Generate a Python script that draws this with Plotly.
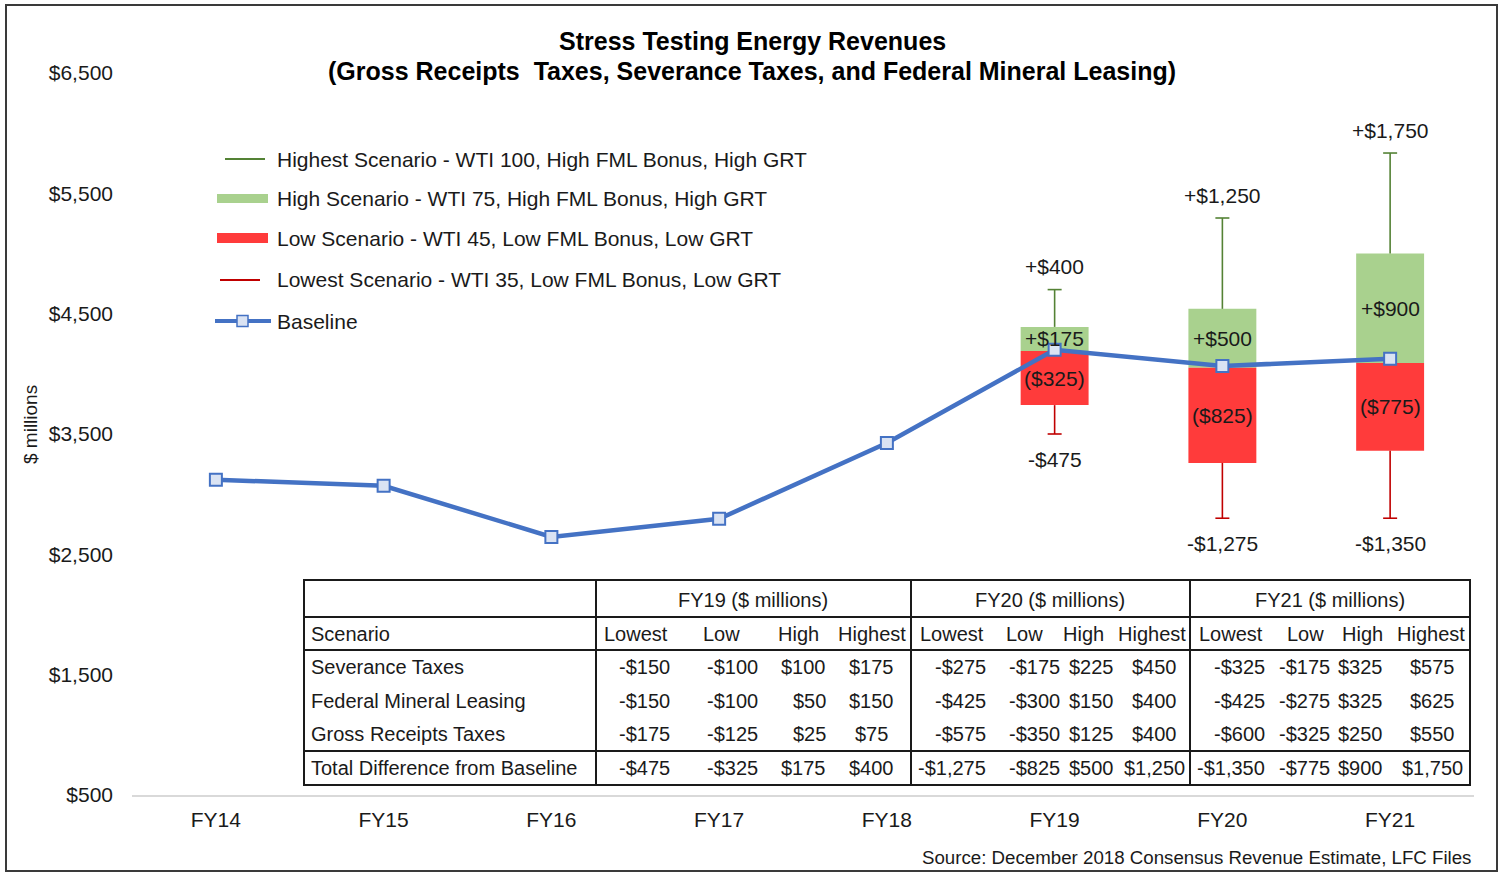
import plotly.graph_objects as go

# ---------------- data ----------------
categories = ["FY14", "FY15", "FY16", "FY17", "FY18", "FY19", "FY20", "FY21"]
baseline = [3120, 3070, 2645, 2795, 3425, 4200, 4065, 4125]

scenario_years = ["FY19", "FY20", "FY21"]
highest_level = [4700, 5295, 5835]
high_level = [4390, 4540, 5000]
split_level = [4190, 4050, 4090]
low_level = [3740, 3260, 3360]
lowest_level = [3500, 2800, 2800]

highest_labels = ["+$400", "+$1,250", "+$1,750"]
high_labels = ["+$175", "+$500", "+$900"]
low_labels = ["($325)", "($825)", "($775)"]
lowest_labels = ["-$475", "-$1,275", "-$1,350"]

y_tick_values = [500, 1500, 2500, 3500, 4500, 5500, 6500]
y_tick_labels = ["$500", "$1,500", "$2,500", "$3,500", "$4,500", "$5,500", "$6,500"]

legend_labels = [
    "Highest Scenario - WTI 100, High FML Bonus, High GRT",
    "High Scenario - WTI 75, High FML Bonus, High GRT",
    "Low Scenario - WTI 45, Low FML Bonus, Low GRT",
    "Lowest Scenario - WTI 35, Low FML Bonus, Low GRT",
    "Baseline",
]

table_groups = ["FY19 ($ millions)", "FY20 ($ millions)", "FY21 ($ millions)"]
table_subheads = ["Lowest", "Low", "High", "Highest"]
table_rows = ["Severance Taxes", "Federal Mineral Leasing", "Gross Receipts Taxes",
              "Total Difference from Baseline"]
table_fy19 = [["-$150", "-$100", "$100", "$175"],
              ["-$150", "-$100", "$50", "$150"],
              ["-$175", "-$125", "$25", "$75"],
              ["-$475", "-$325", "$175", "$400"]]
table_fy20 = [["-$275", "-$175", "$225", "$450"],
              ["-$425", "-$300", "$150", "$400"],
              ["-$575", "-$350", "$125", "$400"],
              ["-$1,275", "-$825", "$500", "$1,250"]]
table_fy21 = [["-$325", "-$175", "$325", "$575"],
              ["-$425", "-$275", "$325", "$625"],
              ["-$600", "-$325", "$250", "$550"],
              ["-$1,350", "-$775", "$900", "$1,750"]]

# ---------------- styling ----------------
W, H = 1504, 875
L, R, T, B = 132, 30, 73, 80
FONT = "Arial, Liberation Sans, sans-serif"
TXT = "#1a1a1a"
GREEN_BOX = "#a9d18e"
RED_BOX = "#ff3b3b"
GREEN_LINE = "#548235"
RED_LINE = "#c00000"
BLUE = "#4472c4"


def px(x):
    return (x - L) / (W - L - R)


def py(y):
    return (H - B - y) / (H - B - T)


fig = go.Figure()

mid_high = [(s + h) / 2 for s, h in zip(split_level, high_level)]
mid_low = [(s + l) / 2 for s, l in zip(split_level, low_level)]

# boxes
fig.add_trace(go.Bar(
    x=scenario_years, y=[h - s for h, s in zip(high_level, split_level)], base=split_level,
    width=0.405, marker=dict(color=GREEN_BOX, line=dict(width=0)), showlegend=False,
    hoverinfo="skip"))
fig.add_trace(go.Bar(
    x=scenario_years, y=[s - l for s, l in zip(split_level, low_level)], base=low_level,
    width=0.405, marker=dict(color=RED_BOX, line=dict(width=0)), showlegend=False,
    hoverinfo="skip"))

# whisker stems (no caps) + caps as markers at the ends
fig.add_trace(go.Scatter(
    x=scenario_years, y=high_level, mode="markers", marker=dict(size=1, opacity=0),
    error_y=dict(type="data", symmetric=False,
                 array=[a - b for a, b in zip(highest_level, high_level)],
                 arrayminus=[0, 0, 0], color=GREEN_LINE, thickness=1.6, width=0),
    showlegend=False, hoverinfo="skip"))
fig.add_trace(go.Scatter(
    x=scenario_years, y=highest_level, mode="markers",
    marker=dict(symbol="line-ew", size=10, line=dict(color=GREEN_LINE, width=1.6)),
    showlegend=False, hoverinfo="skip"))
fig.add_trace(go.Scatter(
    x=scenario_years, y=low_level, mode="markers", marker=dict(size=1, opacity=0),
    error_y=dict(type="data", symmetric=False, array=[0, 0, 0],
                 arrayminus=[a - b for a, b in zip(low_level, lowest_level)],
                 color=RED_LINE, thickness=1.6, width=0),
    showlegend=False, hoverinfo="skip"))
fig.add_trace(go.Scatter(
    x=scenario_years, y=lowest_level, mode="markers",
    marker=dict(symbol="line-ew", size=10, line=dict(color=RED_LINE, width=1.6)),
    showlegend=False, hoverinfo="skip"))

# baseline
fig.add_trace(go.Scatter(
    x=categories, y=baseline, mode="lines+markers",
    line=dict(color=BLUE, width=4.5),
    marker=dict(symbol="square", size=12, color="#dae3f3", line=dict(color=BLUE, width=2)),
    showlegend=False, hoverinfo="skip"))

ann = []
lab_font = dict(family=FONT, size=21, color=TXT)
for i, yr in enumerate(scenario_years):
    ann.append(dict(x=yr, y=highest_level[i], xref="x", yref="y", text=highest_labels[i],
                    showarrow=False, yanchor="middle", yshift=23, font=lab_font))
    ann.append(dict(x=yr, y=mid_high[i], xref="x", yref="y", text=high_labels[i],
                    showarrow=False, yanchor="middle", font=lab_font))
    ann.append(dict(x=yr, y=mid_low[i], xref="x", yref="y", text=low_labels[i],
                    showarrow=False, yanchor="middle", font=lab_font))
    ann.append(dict(x=yr, y=lowest_level[i], xref="x", yref="y", text=lowest_labels[i],
                    showarrow=False, yanchor="middle", yshift=-25, font=lab_font))

shapes = []

# ---------------- legend (manual) ----------------
leg_rows = [160, 198, 238, 279, 321]
shapes.append(dict(type="line", xref="paper", yref="paper", x0=px(225), x1=px(265),
                   y0=py(159), y1=py(159), line=dict(color=GREEN_LINE, width=2)))
shapes.append(dict(type="rect", xref="paper", yref="paper", x0=px(217), x1=px(268),
                   y0=py(194), y1=py(203), fillcolor=GREEN_BOX, line=dict(width=0)))
shapes.append(dict(type="rect", xref="paper", yref="paper", x0=px(217), x1=px(268),
                   y0=py(233), y1=py(243), fillcolor=RED_BOX, line=dict(width=0)))
shapes.append(dict(type="line", xref="paper", yref="paper", x0=px(220), x1=px(260),
                   y0=py(280), y1=py(280), line=dict(color=RED_LINE, width=2)))
shapes.append(dict(type="line", xref="paper", yref="paper", x0=px(215), x1=px(271),
                   y0=py(321), y1=py(321), line=dict(color=BLUE, width=4)))
shapes.append(dict(type="rect", xref="paper", yref="paper", x0=px(237), x1=px(248),
                   y0=py(315.5), y1=py(326.5), fillcolor="#dae3f3",
                   line=dict(color=BLUE, width=1.5)))
for yy, t in zip(leg_rows, legend_labels):
    ann.append(dict(x=px(275), y=py(yy), xref="paper", yref="paper", text=t,
                    showarrow=False, xanchor="left", yanchor="middle",
                    font=dict(family=FONT, size=21, color=TXT)))

# ---------------- table ----------------
tx0, tx1 = 304, 1470
ty = [580, 617, 650, 751, 785]
col_sep = [596, 911, 1190]
shapes.append(dict(type="rect", xref="paper", yref="paper", x0=px(tx0), x1=px(tx1),
                   y0=py(ty[0]), y1=py(ty[-1]), fillcolor="white",
                   line=dict(color="#1a1a1a", width=2), layer="above"))
for yv in ty[1:4]:
    shapes.append(dict(type="line", xref="paper", yref="paper", x0=px(tx0), x1=px(tx1),
                       y0=py(yv), y1=py(yv), line=dict(color="#1a1a1a", width=2)))
for xv in col_sep:
    shapes.append(dict(type="line", xref="paper", yref="paper", x0=px(xv), x1=px(xv),
                       y0=py(ty[0]), y1=py(ty[-1]), line=dict(color="#1a1a1a", width=2)))

tfont = dict(family=FONT, size=20, color=TXT)
group_centers = [753, 1050, 1330]
for c, g in zip(group_centers, table_groups):
    ann.append(dict(x=px(c), y=py(600), xref="paper", yref="paper", text=g,
                    showarrow=False, xanchor="center", yanchor="middle", font=tfont))
ann.append(dict(x=px(309), y=py(634), xref="paper", yref="paper", text="Scenario",
                showarrow=False, xanchor="left", yanchor="middle", font=tfont))
sub_centers = [[636, 721, 798, 872], [952, 1024, 1083, 1152], [1231, 1305, 1362, 1431]]
for grp in sub_centers:
    for c, s in zip(grp, table_subheads):
        ann.append(dict(x=px(c), y=py(634), xref="paper", yref="paper", text=s,
                        showarrow=False, xanchor="center", yanchor="middle", font=tfont))
row_y = [667, 701, 734, 768]
# anchor positions: first three subcolumns right-aligned, last centred
value_anchor = [[(672, "right"), (760, "right"), (828, "right"), (872, "center")],
                [(988, "right"), (1062, "right"), (1116, "right"), (1154, "center")],
                [(1267, "right"), (1332, "right"), (1385, "right"), (1432, "center")]]
for r, (yy, name) in enumerate(zip(row_y, table_rows)):
    ann.append(dict(x=px(309), y=py(yy), xref="paper", yref="paper", text=name,
                    showarrow=False, xanchor="left", yanchor="middle", font=tfont))
    for g, vals in enumerate([table_fy19, table_fy20, table_fy21]):
        for k in range(4):
            xp, anc = value_anchor[g][k]
            ann.append(dict(x=px(xp), y=py(yy), xref="paper", yref="paper",
                            text=vals[r][k], showarrow=False, xanchor=anc,
                            yanchor="middle", font=tfont))

# ---------------- titles / misc ----------------
ann.append(dict(x=px(752), y=py(41), xref="paper", yref="paper",
                text="<b>Stress Testing Energy Revenues</b>", showarrow=False,
                xanchor="center", yanchor="middle",
                font=dict(family=FONT, size=25, color="black")))
ann.append(dict(x=px(752), y=py(71), xref="paper", yref="paper",
                text="<b>(Gross Receipts  Taxes, Severance Taxes, and Federal Mineral Leasing)</b>",
                showarrow=False, xanchor="center", yanchor="middle",
                font=dict(family=FONT, size=25, color="black")))
ann.append(dict(x=px(30), y=py(425), xref="paper", yref="paper", text="$ millions",
                showarrow=False, textangle=-90, xanchor="center", yanchor="middle",
                font=dict(family=FONT, size=19, color=TXT)))
ann.append(dict(x=px(1473), y=py(857), xref="paper", yref="paper",
                text="Source: December 2018 Consensus Revenue Estimate, LFC Files",
                showarrow=False, xanchor="right", yanchor="middle",
                font=dict(family=FONT, size=18.7, color=TXT)))

# outer border
shapes.append(dict(type="rect", xref="paper", yref="paper", x0=px(6), x1=px(1497),
                   y0=py(5), y1=py(871), line=dict(color="#3a3a3a", width=2)))

fig.update_layout(
    width=W, height=H, margin=dict(l=L, r=R, t=T, b=B),
    paper_bgcolor="white", plot_bgcolor="white",
    barmode="overlay", showlegend=False, hovermode=False,
    font=dict(family=FONT, color=TXT),
    annotations=ann, shapes=shapes,
)
fig.update_xaxes(type="category", categoryorder="array", categoryarray=categories,
                 range=[-0.5, 7.5], showgrid=False, zeroline=False,
                 showline=True, linecolor="#d9d9d9", linewidth=1.5, ticks="",
                 ticklabelstandoff=5,
                 tickfont=dict(family=FONT, size=21, color=TXT))
fig.update_yaxes(range=[500, 6500], tickvals=y_tick_values, ticktext=y_tick_labels,
                 showgrid=False, zeroline=False, showline=False, ticks="",
                 ticklabelstandoff=18,
                 tickfont=dict(family=FONT, size=21, color=TXT))

fig.write_html("out.html", config={"displayModeBar": False},
               post_script="document.body.style.margin='0px';document.body.style.overflow='hidden';")
